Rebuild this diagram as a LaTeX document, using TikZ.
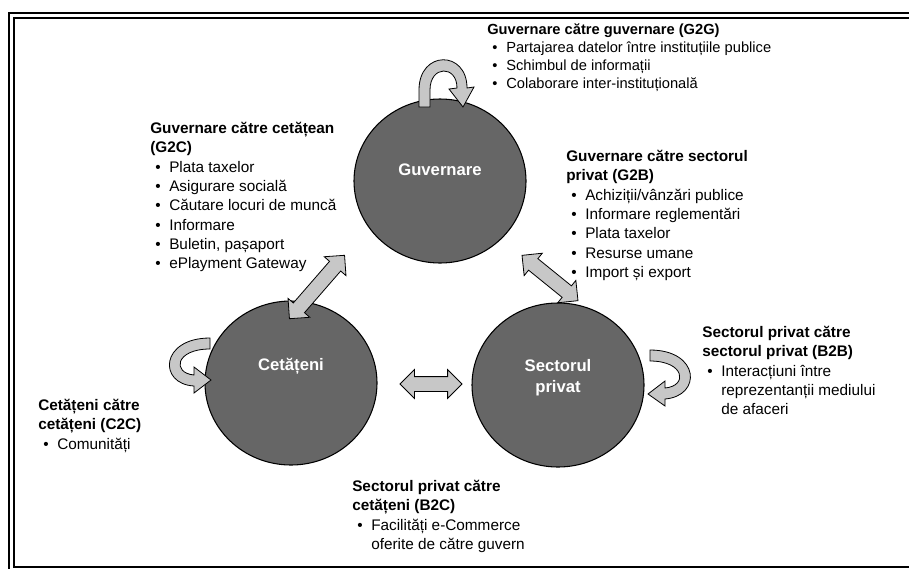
\documentclass[tikz,border=0pt]{standalone}
\usepackage{fontspec}
\setmainfont{Liberation Sans}
\usetikzlibrary{shapes.arrows,shapes.geometric,positioning,calc}
\definecolor{spheregray}{gray}{0.40}
\definecolor{arrowgray}{gray}{0.78}
\newcommand{\bul}[1]{\hspace*{3.75pt}\makebox[10.5pt][l]{\textbullet}#1}
\newcommand{\cnt}[1]{\hspace*{14.25pt}#1}
\tikzset{
  sphere/.style={ellipse, draw=black, line width=0.8pt, fill=spheregray,
    minimum width=129pt, minimum height=123pt, inner sep=0pt},
  spherelabel/.style={text=white, font=\fontsize{12.5}{16}\selectfont\bfseries, align=center},
  dblarrow/.style={double arrow, draw=black, line width=0.6pt, fill=arrowgray,
    inner xsep=0pt, inner ysep=5.25pt, double arrow head extend=5.25pt},
  loopfill/.style={draw=black, line width=0.6pt, fill=arrowgray},
  txtblock/.style={anchor=north west, inner sep=0pt, align=left,
    font=\fontsize{11.5}{14.5}\selectfont},
}

\begin{document}
\begin{tikzpicture}[x=0.75pt, y=-0.75pt]
    \useasboundingbox (0,0) rectangle (909,568);
    \clip (0,0) rectangle (909,568);
    % double frame
    \draw[line width=2pt] (9,13) rectangle (915,575);
    \draw[line width=1.5pt] (13.5,17.5) rectangle (912,567);

    % the three spheres
    \node[sphere] (gov) at (440,181) {};
    \node[sphere] (cit) at (291,383) {};
    \node[sphere] (priv) at (558,385) {};
    \node[spherelabel] (govlbl) at (440,170) {Guvernare};
    \node[spherelabel] (citlbl) at (291,366) {Cetățeni};
    \node[spherelabel] (privlbl) at (558,378) {Sectorul\\privat};

    % arrows between the spheres
    \node[dblarrow, rotate=49, minimum height=63pt] (govcit) at (317,287) {};
    \node[dblarrow, rotate=-39, minimum height=54pt] (govpriv) at (550,278) {};
    \node[dblarrow, minimum height=46.5pt] (citpriv) at (431,384) {};

    % self loops
    \draw[loopfill] (419,107) -- (419,90) .. controls (419,50) and (467,50) .. (467,88)
        -- (474,87) -- (463,107) -- (449,89) -- (457,88)
        .. controls (457,65) and (430,65) .. (430,90) -- (430,107) -- cycle;
    \draw[loopfill] (210,338) .. controls (160,338) and (158,384) .. (194,386)
        -- (194,393) -- (211,380) -- (194,367) -- (194,375)
        .. controls (172,373) and (175,349) .. (210,349) -- cycle;
    \draw[loopfill] (650,350) .. controls (700,350) and (702,396) .. (665,399)
        -- (665,406) -- (648,394) -- (665,381) -- (665,388)
        .. controls (688,386) and (685,361) .. (650,361) -- cycle;

    % G2G
    \node[txtblock, font=\fontsize{11}{13.5}\selectfont] (g2g) at (487,23)
        {\textbf{Guvernare către guvernare (G2G)}\\
        \bul{Partajarea datelor între instituțiile publice}\\
        \bul{Schimbul de informații}\\
        \bul{Colaborare inter-instituțională}};
    % G2C
    \node[txtblock] (g2c) at (150,122) {\textbf{Guvernare către cetățean}\\
        \textbf{(G2C)}\\
        \bul{Plata taxelor}\\
        \bul{Asigurare socială}\\
        \bul{Căutare locuri de muncă}\\
        \bul{Informare}\\
        \bul{Buletin, pașaport}\\
        \bul{ePlayment Gateway}};
    % G2B
    \node[txtblock] (g2b) at (566,150) {\textbf{Guvernare către sectorul}\\
        \textbf{privat (G2B)}\\
        \bul{Achiziții/vânzări publice}\\
        \bul{Informare reglementări}\\
        \bul{Plata taxelor}\\
        \bul{Resurse umane}\\
        \bul{Import și export}};
    % B2B
    \node[txtblock] (b2b) at (702,326) {\textbf{Sectorul privat către}\\
        \textbf{sectorul privat (B2B)}\\
        \bul{Interacțiuni între}\\
        \cnt{reprezentanții mediului}\\
        \cnt{de afaceri}};
    % C2C
    \node[txtblock] (c2c) at (38,399) {\textbf{Cetățeni către}\\
        \textbf{cetățeni (C2C)}\\
        \bul{Comunități}};
    % B2C
    \node[txtblock] (b2c) at (352,480) {\textbf{Sectorul privat către}\\
        \textbf{cetățeni (B2C)}\\
        \bul{Facilități e-Commerce}\\
        \cnt{oferite de către guvern}};
\end{tikzpicture}
\end{document}
